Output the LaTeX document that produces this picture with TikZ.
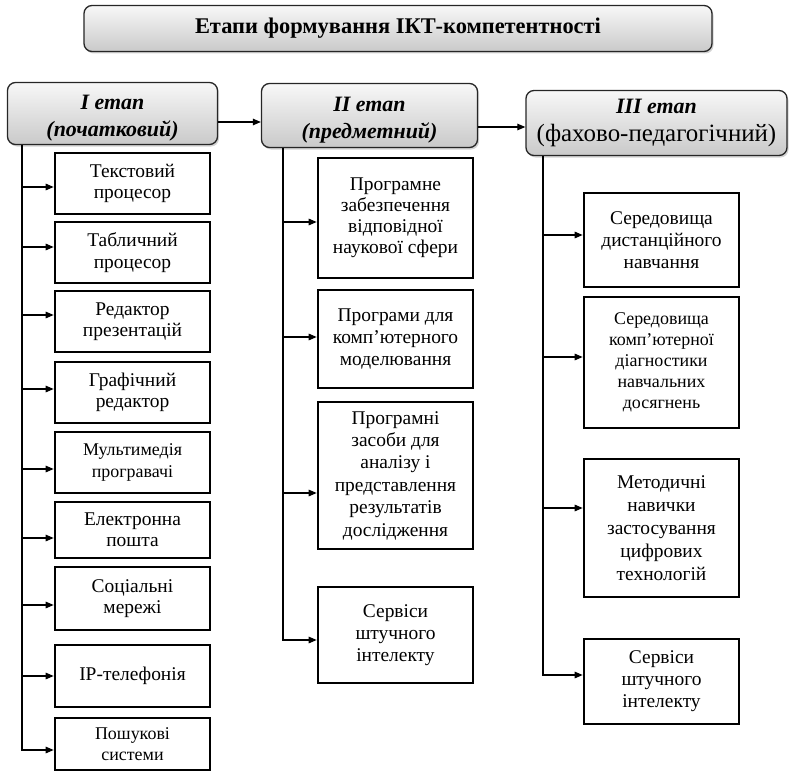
\documentclass[tikz,border=0pt]{standalone}
\usepackage{fontspec}
\setmainfont{Liberation Serif}
\usetikzlibrary{arrows.meta,shadows}

\tikzset{
  stagebox/.style={draw=black!85, line width=1.3bp, rounded corners=8bp,
    top color=gray!6, bottom color=gray!42,
    drop shadow={shadow xshift=1.5bp, shadow yshift=-2bp, opacity=.35},
    align=center, inner sep=0pt},
  item/.style={draw, line width=2.6bp, fill=white, align=center,
    inner sep=0pt, minimum width=155bp},
  arr/.style={line width=1.2bp, -{Triangle[length=8bp,width=6.5bp]}},
  trunk/.style={line width=2.6bp}
}

\begin{document}
\begin{tikzpicture}[x=1bp,y=-1bp]

\useasboundingbox (0,0) rectangle (789,771);

% title and stages
\node[stagebox, minimum width=628bp, minimum height=46bp,
  font=\fontsize{22.5}{27}\selectfont\bfseries] (title) at (398,28.5)
  {Етапи формування ІКТ-компетентності};

\node[stagebox, minimum width=210bp, minimum height=62bp,
  font=\fontsize{22}{27}\selectfont\bfseries\itshape] (s1) at (112.5,113.5)
  {\rule{0pt}{24bp}I етап\\(початковий)};
\node[stagebox, minimum width=216bp, minimum height=64bp,
  font=\fontsize{22}{27}\selectfont\bfseries\itshape] (s2) at (369.5,115.5)
  {\rule{0pt}{23bp}II етап\\(предметний)};
\node[stagebox, minimum width=261bp, minimum height=65bp,
  font=\fontsize{22}{28}\selectfont\bfseries\itshape] (s3) at (656.5,123)
  {III етап\\{\normalfont\fontsize{25}{28}\selectfont(фахово-педагогічний)}};

\draw[arr] (s1.east |- 0,122) -- (s2.west |- 0,122);
\draw[arr] (s2.east |- 0,127) -- (s3.west |- 0,127);

\coordinate (t1) at (22,0);
\coordinate (t2) at (283,0);
\coordinate (t3) at (543,0);

\draw[trunk] (s1.south -| t1) -- (t1 |- 0,751);
\draw[trunk] (s2.south -| t2) -- (t2 |- 0,641);
\draw[trunk] (s3.south -| t3) -- (t3 |- 0,676);

% stage I
\foreach \n/\y/\a/\h/\s/\t in {
  1/183.5/187/61/19.5/{Текстовий\\процесор},
  2/252.5/247/61/19.5/{Табличний\\процесор},
  3/321.5/315/61/19.5/{Редактор\\презентацій},
  4/392.5/389/61/19.5/{Графічний\\редактор},
  5/462.5/469/61/18/{Мультимедія\\програвачі},
  6/530/538/56/19.5/{Електронна\\пошта},
  7/598.5/605/63/19.5/{Соціальні\\мережі},
  8/676/676/62/19.5/{IP-телефонія},
  9/744/750/52/18/{Пошукові\\системи}}
{
  \node[item, minimum height=\h bp, font=\fontsize{\s}{21.5}\selectfont]
    (a\n) at (132.5,\y) {\t};
  \draw[arr] (t1 |- 0,\a) -- (a\n.west |- 0,\a);
}

% stage II
\foreach \n/\y/\a/\h/\b/\t in {
  1/218/222/120/21/{Програмне\\забезпечення\\відповідної\\наукової сфери},
  2/339/337/98/22/{Програми для\\комп’ютерного\\моделювання},
  3/475.5/493/147/22.5/{Програмні\\засоби для\\аналізу і\\представлення\\результатів\\дослідження},
  4/635/640/96/22/{Сервіси\\штучного\\інтелекту}}
{
  \node[item, minimum height=\h bp, font=\fontsize{19.5}{\b}\selectfont]
    (b\n) at (395.5,\y) {\t};
  \draw[arr] (t2 |- 0,\a) -- (b\n.west |- 0,\a);
}

% stage III
\foreach \n/\y/\a/\h/\s/\b/\t in {
  1/240/235/94/19.5/22/{Середовища\\дистанційного\\навчання},
  2/362.5/357/131/18/21/{Середовища\\комп’ютерної\\діагностики\\навчальних\\досягнень},
  3/528/508/138/19.5/23/{Методичні\\навички\\застосування\\цифрових\\технологій},
  4/681.5/675/85/19.5/22/{Сервіси\\штучного\\інтелекту}}
{
  \node[item, minimum height=\h bp, font=\fontsize{\s}{\b}\selectfont]
    (c\n) at (661.5,\y) {\t};
  \draw[arr] (t3 |- 0,\a) -- (c\n.west |- 0,\a);
}

\end{tikzpicture}
\end{document}
